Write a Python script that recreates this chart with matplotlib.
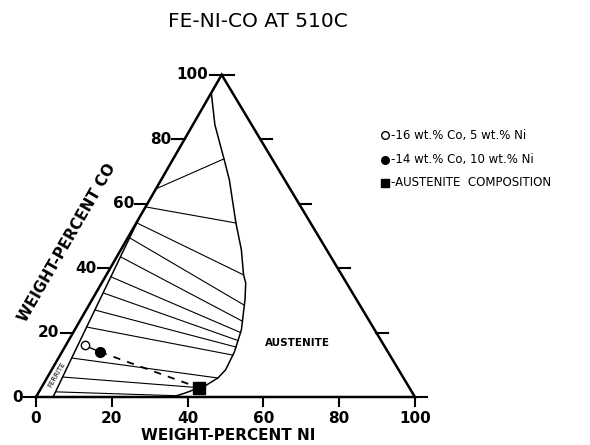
import numpy as np
import matplotlib.pyplot as plt

# axis ticks (wt.%)
co_ticks = [0, 20, 40, 60, 80, 100]
ni_ticks = [0, 20, 40, 60, 80, 100]

# austenite (gamma) boundary, (Ni, Co) in wt.%
austenite_ni = [0, 5.8, 13.4, 18.0, 26.3, 31.8, 36.2, 38.0, 40.4, 41.6, 44.0, 45.5, 45.9, 45.1, 42.9, 41.0, 38.7, 36.0]
austenite_co = [94.4, 84.5, 73.9, 67.4, 54.0, 45.7, 37.9, 35.4, 30.1, 27.0, 20.8, 14.0, 8.4, 5.9, 3.4, 2.5, 1.2, 0]

# ferrite boundary
ferrite_ni = [4.5, 3.5, 2.7, 1.5, 0.6, 0]
ferrite_co = [0, 12, 22, 37, 48, 56]

# tie lines: ferrite end -> austenite end
tie_fe_ni = [0, 0, 0.2, 0.5, 1.0, 1.5, 1.9, 2.3, 2.8, 3.5, 4.0, 4.4]
tie_fe_co = [64.6, 59, 54, 49.4, 43.5, 37.3, 32.3, 27, 21.7, 12.1, 6.2, 1.6]
tie_au_ni = [13.4, 26.3, 36.2, 41.0, 43.0, 44.2, 44.8, 45.2, 45.6, 45.1, 41.5, 36.7]
tie_au_co = [73.9, 54, 37.9, 28.5, 23.5, 20, 17.5, 15.5, 13, 5.9, 2.9, 0.4]

# alloys (Ni, Co)
alloy_open = (5, 16)
alloy_filled = (10, 14)
aust_comp = (41.5, 2.9)

R3 = np.sqrt(3) / 2
SHEAR = 0.49  # the printed triangle leans a little to the left


def tern(ni, co):
    ni = np.asarray(ni, float)
    co = np.asarray(co, float)
    return ni + co * SHEAR, co * R3


fig = plt.figure(figsize=(5.9, 4.45), dpi=100)
ax = fig.add_axes([0, 0, 1, 1])
ax.set_xlim(-9.5, 146.2)
ax.set_ylim(-12.9, 106.7)
ax.axis('off')

# triangle
tx, ty = tern([0, 100, 0, 0], [0, 0, 100, 0])
ax.plot(tx, ty, color='k', lw=1.8, solid_joinstyle='miter')

# ticks
tl = 3.2
for c in co_ticks:
    x0, y0 = tern(0, c)
    ax.plot([x0 - tl, x0], [y0, y0], 'k', lw=1.5)
    ax.annotate(str(c), (x0 - tl, y0), xytext=(-1, 0), textcoords='offset points',
                ha='right', va='center', fontsize=11, fontweight='bold')
    x1, y1 = tern(100 - c, c)
    ax.plot([x1, x1 + tl], [y1, y1], 'k', lw=1.5)
for n in ni_ticks:
    ax.plot([n, n], [0, -2.4], 'k', lw=1.5)
    ax.annotate(str(n), (n, -2.4), xytext=(0, -4), textcoords='offset points',
                ha='center', va='top', fontsize=11, fontweight='bold')

# phase boundaries
ax.plot(*tern(austenite_ni, austenite_co), 'k', lw=1.1)
ax.plot(*tern(ferrite_ni, ferrite_co), 'k', lw=1.1)
for i in range(len(tie_fe_ni)):
    xs, ys = tern([tie_fe_ni[i], tie_au_ni[i]], [tie_fe_co[i], tie_au_co[i]])
    ax.plot(xs, ys, 'k', lw=0.8)

# alloy tie line
xo, yo = tern(*alloy_open)
xf, yf = tern(*alloy_filled)
xa, ya = tern(*aust_comp)
ax.plot([xo, xf], [yo, yf], 'k', lw=1.0)
ax.plot([xf, xa], [yf, ya], 'k', lw=1.3, dashes=(4, 4))
ax.plot(xo, yo, 'o', mfc='white', mec='k', ms=6, mew=1.0)
ax.plot(xf, yf, 'o', color='k', ms=7)
ax.plot(xa, ya, 's', color='k', ms=8)

# region labels
ax.text(*tern(60.7, 16.8), 'AUSTENITE', fontsize=7.5, fontweight='bold',
        ha='center', va='center')
ax.text(*tern(2.1, 7), 'FERRITE', fontsize=5, ha='center', va='center', rotation=60)

# legend
lx = 385 / 590
for ly, mk, fc, txt in [(135, 'o', 'white', '-16 wt.% Co, 5 wt.% Ni'),
                        (160, 'o', 'k', '-14 wt.% Co, 10 wt.% Ni'),
                        (183, 's', 'k', '-AUSTENITE  COMPOSITION')]:
    y = 1 - ly / 445
    fig.lines.append(plt.Line2D([lx], [y], marker=mk, mfc=fc, mec='k', ms=5.5,
                                transform=fig.transFigure))
    fig.text(lx + 0.01, y, txt, fontsize=8.5, ha='left', va='center')

# titles
fig.text(0.437, 0.951, 'FE-NI-CO AT 510C', fontsize=14.5, ha='center', va='center')
fig.text(0.386, 0.022, 'WEIGHT-PERCENT NI', fontsize=11, fontweight='bold',
         ha='center', va='center')
fig.text(0.114, 0.454, 'WEIGHT-PERCENT CO', fontsize=11, fontweight='bold',
         ha='center', va='center', rotation=60)

fig.savefig('out.png', dpi=100)
